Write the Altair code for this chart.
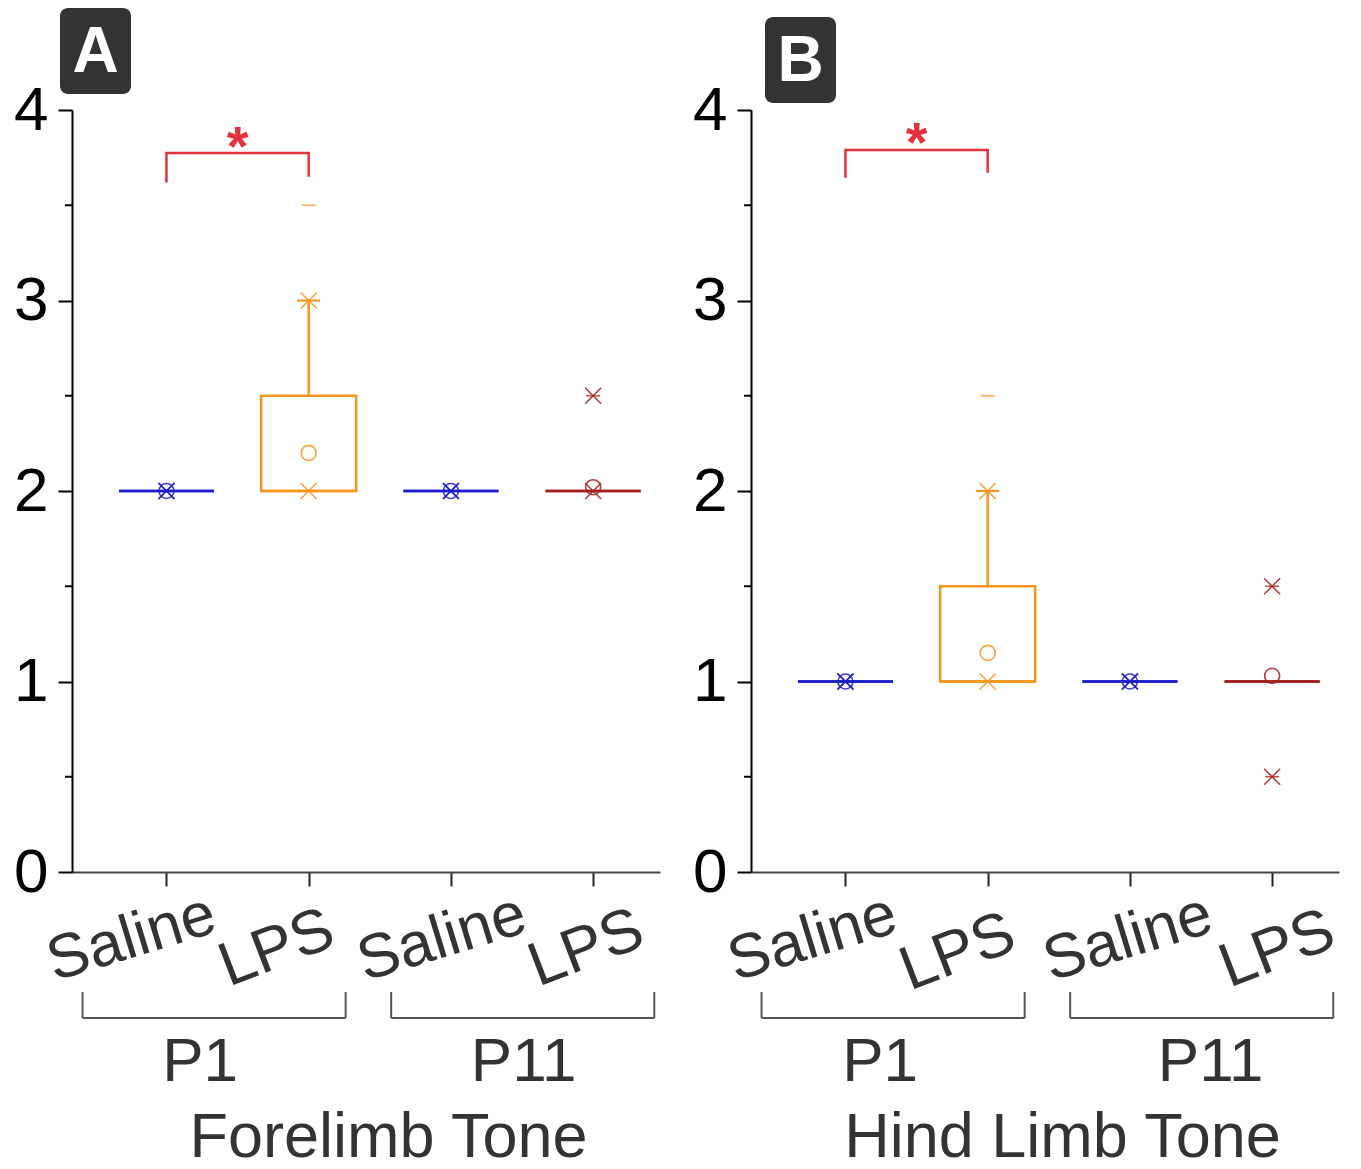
import altair as alt
import pandas as pd
import math

FONT = "Liberation Sans"

# ---- data ----
categories = ["Saline", "LPS", "Saline", "LPS"]
ages = ["P1", "P1", "P11", "P11"]
positions = [1, 2, 3, 4]
series = ["P1 Saline", "P1 LPS", "P11 Saline", "P11 LPS"]
series_colors = ["#1c1cc8", "#f7941d", "#1c1cc8", "#a31f1f"]

# Forelimb tone (panel A)
fore_q1 = [2, 2, 2, 2]
fore_q3 = [2, 2.5, 2, 2]
fore_median = [2, 2, 2, 2]
fore_mean = [2, 2.2, 2, 2.02]
fore_whisker = [2, 3, 2, 2]
fore_p1 = [2, 2, 2, 2]
fore_p99 = [2, 3, 2, 2.5]
fore_min = [2, 2, 2, 2]
fore_max = [2, 3.5, 2, 2.5]

# Hind limb tone (panel B)
hind_q1 = [1, 1, 1, 1]
hind_q3 = [1, 1.5, 1, 1]
hind_median = [1, 1, 1, 1]
hind_mean = [1, 1.15, 1, 1.03]
hind_whisker = [1, 2, 1, 1]
hind_p1 = [1, 1, 1, 0.5]
hind_p99 = [1, 2, 1, 1.5]
hind_min = [1, 1, 1, 0.5]
hind_max = [1, 2.5, 1, 1.5]

y_ticks = [0, 1, 2, 3, 4]
y_minor = [0.5, 1.5, 2.5, 3.5]

groups = ["P1", "P11"]
group_start = [0.41, 2.58]
group_end = [2.26, 4.43]

sig_x = [1, 1, 2, 2]
sig_y_fore = [3.62, 3.774, 3.774, 3.65]
sig_y_hind = [3.645, 3.79, 3.79, 3.67]
sig_star_x = 1.5
sig_star_fore = 3.88
sig_star_hind = 3.90

W, H = 588, 762
X_DOMAIN = [0.371, 4.435]

XSHAPE = "M-1,-1L1,1M-1,1L1,-1"
DASH = "M-1,0L1,0"


def panel(letter, title, title_x, q1, q3, med, mean, whi, p1, p99, mn, mx,
          sig_y, star_y, box_off, label_offsets, group_dx):
    df = pd.DataFrame(dict(pos=positions, cat=categories, series=series,
                           q1=q1, q3=q3, med=med, mean=mean, whi=whi,
                           p1=p1, p99=p99, mn=mn, mx=mx))
    xsc = alt.Scale(domain=X_DOMAIN, nice=False, zero=False)
    ysc = alt.Scale(domain=[0, 4], nice=False, zero=False)
    col = alt.Color("series:N", scale=alt.Scale(domain=series, range=series_colors), legend=None)
    xn = alt.X("pos:Q", scale=xsc)

    base = alt.Chart(df)

    box = base.mark_bar(width=95, filled=False, strokeWidth=2.5).encode(
        x=alt.X("pos:Q", scale=xsc,
                axis=alt.Axis(values=positions, labels=False, tickSize=14, tickWidth=2,
                              tickColor="#222", domainColor="#444", domainWidth=2,
                              grid=False, title=title, titleX=title_x, titleY=284,
                              titleBaseline="alphabetic", titleFontSize=63, titleFont=FONT,
                              titleFontWeight="normal", titleColor="#333")),
        y=alt.Y("q1:Q", scale=ysc,
                axis=alt.Axis(values=y_ticks, tickSize=14, tickWidth=2, domainWidth=2,
                              domainColor="black", tickColor="black", labelFontSize=62,
                              labelFont=FONT, labelColor="black", labelPadding=10,
                              grid=False, title=None, format="d")),
        y2="q3:Q",
        stroke=col,
    )
    median = base.mark_point(shape=DASH, size=95 * 95, filled=False, strokeWidth=2.5, opacity=1).encode(
        x=xn, y=alt.Y("med:Q", scale=ysc), color=col)
    whisk = base.transform_filter("datum.whi > datum.q3").mark_rule(strokeWidth=2.5).encode(
        x=xn, y=alt.Y("q3:Q", scale=ysc), y2="whi:Q", color=col)
    cap = base.transform_filter("datum.whi > datum.q3").mark_point(
        shape=DASH, size=23 * 23, filled=False, strokeWidth=2.2, opacity=1).encode(
        x=xn, y=alt.Y("whi:Q", scale=ysc), color=col)
    pct = base.transform_fold(["p1", "p99"], as_=["k", "v"]).mark_point(
        shape=XSHAPE, size=16 * 16, filled=False, strokeWidth=1.6, opacity=0.85).encode(
        x=xn, y=alt.Y("v:Q", scale=ysc), color=col)
    ext = base.transform_fold(["mn", "mx"], as_=["k", "v"]).mark_point(
        shape=DASH, size=14 * 14, filled=False, strokeWidth=1.6, opacity=0.75).encode(
        x=xn, y=alt.Y("v:Q", scale=ysc), color=col)
    mean_pt = base.mark_point(shape="circle", size=225, filled=False, strokeWidth=1.6, opacity=0.85).encode(
        x=xn, y=alt.Y("mean:Q", scale=ysc), color=col)

    minor = alt.Chart(pd.DataFrame({"v": y_minor})).mark_rule(color="black", strokeWidth=2).encode(
        y=alt.Y("v:Q", scale=ysc), x=alt.value(-7), x2=alt.value(0))

    sig = alt.Chart(pd.DataFrame({"x": sig_x, "y": sig_y, "o": [0, 1, 2, 3]})).mark_line(
        color="#e4323c", strokeWidth=2.5).encode(
        x=alt.X("x:Q", scale=xsc), y=alt.Y("y:Q", scale=ysc), order="o:Q")
    star = alt.Chart(pd.DataFrame({"x": [sig_star_x], "y": [star_y]})).mark_text(
        text="*", font=FONT, fontSize=56, fontWeight="bold", color="#e4323c",
        baseline="alphabetic", dy=32).encode(
        x=alt.X("x:Q", scale=xsc), y=alt.Y("y:Q", scale=ysc))

    labels = []
    for i, (sx, sy, ang) in enumerate(label_offsets):
        th = math.radians(ang)
        dx = sx * math.cos(th)
        dy = sx * math.sin(th)
        labels.append(
            base.transform_filter(f"datum.pos == {positions[i]}").mark_text(
                angle=360 - ang, font=FONT, fontSize=62, color="#333", align="center",
                baseline="middle", dx=dx, dy=dy).encode(
                x=xn, y=alt.value(H + sy), text="cat:N"))

    gdf = pd.DataFrame({"g": groups, "s": group_start, "e": group_end})
    gbase = alt.Chart(gdf)
    gline = gbase.mark_rule(color="#555", strokeWidth=2).encode(
        x=alt.X("s:Q", scale=xsc), x2="e:Q", y=alt.value(H + 146))
    gleft = gbase.mark_rule(color="#555", strokeWidth=2).encode(
        x=alt.X("s:Q", scale=xsc), y=alt.value(H + 120), y2=alt.value(H + 146))
    gright = gbase.mark_rule(color="#555", strokeWidth=2).encode(
        x=alt.X("e:Q", scale=xsc), y=alt.value(H + 120), y2=alt.value(H + 146))
    gtexts = []
    for g, gdx in zip(groups, group_dx):
        gtexts.append(
            gbase.transform_filter(f"datum.g == '{g}'").transform_calculate(
                m="(datum.s + datum.e) / 2").mark_text(
                font=FONT, fontSize=62, color="#333", baseline="alphabetic", dx=gdx).encode(
                x=alt.X("m:Q", scale=xsc), y=alt.value(H + 209), text="g:N"))

    bx, by = box_off
    one = pd.DataFrame({"t": [letter]})
    lbox = alt.Chart(one).mark_rect(color="#333333", cornerRadius=8).encode(
        x=alt.value(bx), x2=alt.value(bx + 71), y=alt.value(by), y2=alt.value(by + 86))
    ltext = alt.Chart(one).mark_text(font=FONT, fontSize=64, fontWeight="bold", color="white",
                                     baseline="middle", align="center").encode(
        x=alt.value(bx + 35.5), y=alt.value(by + 45), text="t:N")

    return alt.layer(box, median, whisk, cap, ext, pct, mean_pt, minor, sig, star,
                     *labels, gline, gleft, gright, *gtexts, lbox, ltext).properties(width=W, height=H)


pa = panel("A", "Forelimb Tone", 316, fore_q1, fore_q3, fore_median, fore_mean, fore_whisker,
           fore_p1, fore_p99, fore_min, fore_max, sig_y_fore, sig_star_fore, (-12, -102),
           [(-35, 66, 17), (-32, 76, 21), (-9, 66, 17), (-7, 76, 21)], [-14, 1])
pb = panel("B", "Hind Limb Tone", 311, hind_q1, hind_q3, hind_median, hind_mean, hind_whisker,
           hind_p1, hind_p99, hind_min, hind_max, sig_y_hind, sig_star_hind, (14, -93),
           [(-33, 66, 17), (-30, 80, 21), (-2, 66, 17), (5, 77, 21)], [-13, 9])

chart = alt.hconcat(pa, pb, spacing=32).properties(
    padding={"left": 13, "top": 8, "right": 5, "bottom": 0},
    background="white",
).configure_view(stroke=None)

chart.save("out.html", embed_options={"renderer": "svg", "actions": False})
